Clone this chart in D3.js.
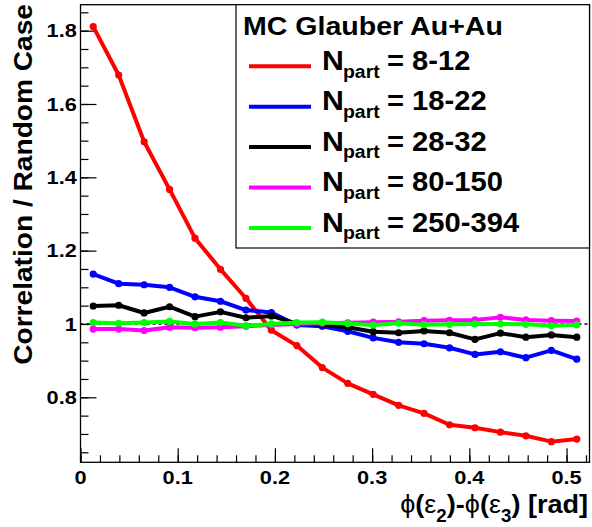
<!DOCTYPE html>
<html><head><meta charset="utf-8">
<script src="https://cdn.jsdelivr.net/npm/d3@7"></script>
<style>
body{margin:0;background:#fff}
svg{display:block}
text{font-family:"Liberation Sans",Arial,Helvetica,sans-serif;font-weight:bold;fill:#000}
</style>
</head><body><script>
// ---- data ----
const xValues = [0.01309,0.03927,0.06545,0.09163,0.11781,0.14399,0.17017,0.19635,0.22253,0.24871,
                 0.27489,0.30107,0.32725,0.35343,0.37961,0.40579,0.43197,0.45815,0.48433,0.51051];
const npart8_12    = [1.811,1.679,1.497,1.367,1.234,1.149,1.070,0.983,0.941,0.881,0.838,0.808,0.778,0.756,0.725,0.717,0.705,0.695,0.679,0.686];
const npart18_22   = [1.136,1.110,1.107,1.100,1.074,1.062,1.038,1.031,0.997,0.994,0.980,0.962,0.950,0.946,0.935,0.917,0.924,0.908,0.928,0.904];
const npart28_32   = [1.049,1.051,1.030,1.047,1.020,1.033,1.017,1.022,1.001,0.998,0.991,0.979,0.976,0.981,0.976,0.958,0.975,0.964,0.970,0.964];
const npart80_150  = [0.986,0.986,0.982,0.991,0.990,0.991,0.994,0.997,1.000,1.002,1.003,1.005,1.006,1.009,1.010,1.011,1.018,1.011,1.009,1.008];
const npart250_394 = [1.004,1.002,1.004,1.007,1.000,1.004,0.995,1.000,1.004,1.005,1.001,0.997,1.002,0.998,0.999,1.000,1.000,0.999,0.995,0.998];
const seriesLabels = ["8-12","18-22","28-32","80-150","250-394"];
const seriesColors = ["#ff0000","#0000ff","#000000","#ff00ff","#00ff00"];
const seriesValues = [npart8_12,npart18_22,npart28_32,npart80_150,npart250_394];
const yTickValues = [0.8,1.0,1.2,1.4,1.6,1.8];
const yTickLabels = ["0.8","1","1.2","1.4","1.6","1.8"];
const xTickValues = [0,0.1,0.2,0.3,0.4,0.5];
const xTickLabels = ["0","0.1","0.2","0.3","0.4","0.5"];
const legendHeader = "MC Glauber Au+Au";
const yTitle = "Correlation / Random Case";
const referenceLevel = 1.0;

// ---- layout ----
const W = 592, H = 527;
const L = 80.5, R = 589.5, T = 4.7, B = 462.3;
const x = d3.scaleLinear().domain([0, 0.5236]).range([L, R]);
const y = d3.scaleLinear().domain([0.6227, 1.8708]).range([B, T]);

const svg = d3.select("body").append("svg").attr("width", W).attr("height", H);

// reference dashed line
svg.append("line")
  .attr("x1", L).attr("x2", R).attr("y1", y(referenceLevel)).attr("y2", y(referenceLevel))
  .attr("stroke", "#000").attr("stroke-width", 1.5).attr("stroke-dasharray", "3,3");

// axes ticks
const yMinor = d3.range(13, 38).map(k => k * 0.05);
const xMinor = d3.range(0, 27).map(k => k * 0.02);
function styleAxis(g){ g.select(".domain").remove(); g.selectAll("line").attr("stroke","#000").attr("stroke-width",1.2); g.selectAll("text").remove(); }
svg.append("g").attr("transform", `translate(${L},0)`)
  .call(d3.axisLeft(y).tickValues(yMinor).tickSize(-8).tickFormat("")).call(styleAxis);
svg.append("g").attr("transform", `translate(${L},0)`)
  .call(d3.axisLeft(y).tickValues(yTickValues).tickSize(-16).tickFormat("")).call(styleAxis);
svg.append("g").attr("transform", `translate(0,${B})`)
  .call(d3.axisBottom(x).tickValues(xMinor).tickSize(-7).tickFormat("")).call(styleAxis);
svg.append("g").attr("transform", `translate(0,${B})`)
  .call(d3.axisBottom(x).tickValues(xTickValues).tickSize(-14).tickFormat("")).call(styleAxis);

// frame
svg.append("rect").attr("x", L).attr("y", T).attr("width", R - L).attr("height", B - T)
  .attr("fill", "none").attr("stroke", "#000").attr("stroke-width", 1.3);

// stretched text helper
function stext(px, py, str, size, anchor, sx, rot){
  const g = svg.append("g").attr("transform", `translate(${px},${py})` + (rot ? ` rotate(${rot})` : "") + ` scale(${sx},1)`);
  return g.append("text").attr("x", 0).attr("y", 0).attr("font-size", size).attr("text-anchor", anchor).text(str);
}

// tick labels
yTickValues.forEach((v, i) => stext(76.8, y(v) + 6.7, yTickLabels[i], 18.6, "end", 1.17));
xTickValues.forEach((v, i) => stext(x(v), 483.5, xTickLabels[i], 18.6, "middle", 1.17));

// axis titles
stext(32, 4, yTitle, 25, "end", 1.125, -90);
{
  const g = svg.append("g").attr("transform", `translate(588,513) scale(1.04,1)`);
  const t = g.append("text").attr("font-size", 26).attr("text-anchor", "end");
  t.append("tspan").attr("font-weight","normal").text("ϕ");
  t.append("tspan").text("(");
  t.append("tspan").attr("font-weight","normal").text("ε");
  t.append("tspan").attr("font-size", 18).attr("dy", 9).text("2");
  t.append("tspan").attr("dy", -9).text(")-");
  t.append("tspan").attr("font-weight","normal").text("ϕ");
  t.append("tspan").text("(");
  t.append("tspan").attr("font-weight","normal").text("ε");
  t.append("tspan").attr("font-size", 18).attr("dy", 9).text("3");
  t.append("tspan").attr("dy", -9).text(") [rad]");
}

// series
const line = d3.line().x((d, i) => x(xValues[i])).y(d => y(d));
seriesValues.forEach((vals, k) => {
  const g = svg.append("g");
  g.append("path").datum(vals).attr("d", line)
    .attr("fill", "none").attr("stroke", seriesColors[k]).attr("stroke-width", 4)
    .attr("stroke-linejoin", "round");
  g.selectAll("circle").data(vals).join("circle")
    .attr("cx", (d, i) => x(xValues[i])).attr("cy", d => y(d)).attr("r", 3.6)
    .attr("fill", seriesColors[k]);
});

// legend
svg.append("rect").attr("x", 236).attr("y", T).attr("width", R - 236).attr("height", 248 - T)
  .attr("fill", "#fff").attr("stroke", "#000").attr("stroke-width", 1.2);
stext(243, 35, legendHeader, 25.5, "start", 1.12);
seriesLabels.forEach((lab, k) => {
  const by = 70 + k * 40.4;
  svg.append("line").attr("x1", 249).attr("x2", 311).attr("y1", by - 3.7).attr("y2", by - 3.7)
    .attr("stroke", seriesColors[k]).attr("stroke-width", 4);
  stext(322, by, "N", 27.5, "start", 1.1);
  stext(343, by + 7.5, "part", 18.5, "start", 1.05);
  stext(387, by, "= " + lab, 27, "start", 1.08);
});
</script></body></html>
